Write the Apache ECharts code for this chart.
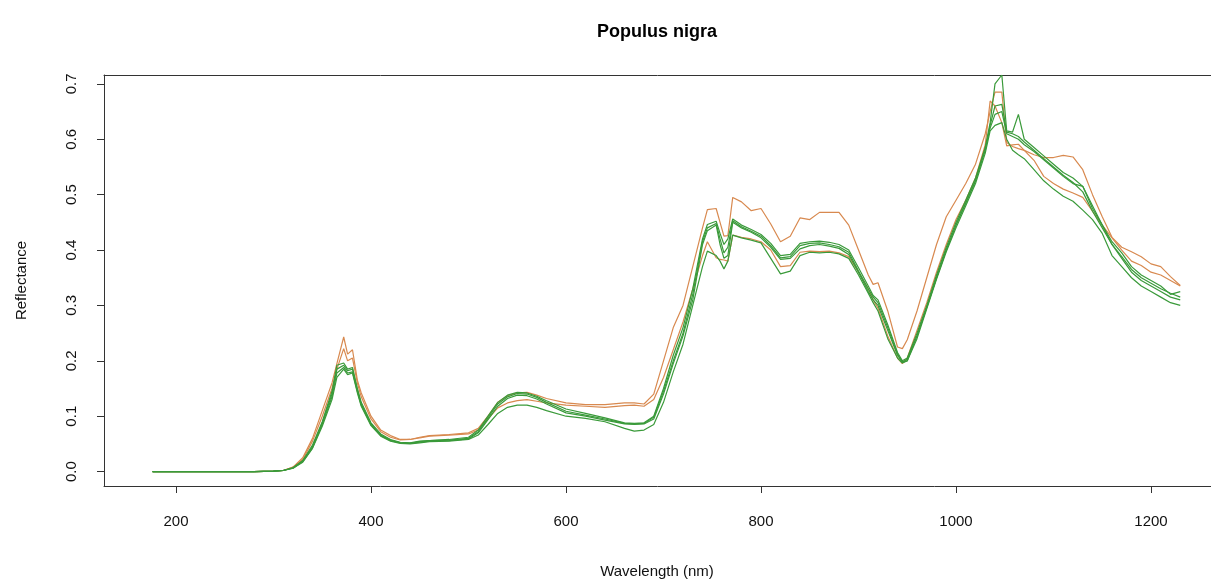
<!DOCTYPE html>
<html>
<head>
<meta charset="utf-8">
<script src="https://cdn.jsdelivr.net/npm/echarts@6/dist/echarts.min.js"></script>
<style>
  html, body { margin: 0; padding: 0; background: #fff; overflow: hidden; }
  #chart { width: 1211px; height: 583px; }
</style>
</head>
<body>
<div id="chart"></div>
<script>
const wavelength = [176, 200, 220, 240, 260, 280, 300,
    310, 320, 330, 340, 350, 360,
    365, 372, 376, 381, 386, 390,
    400, 410, 420, 430, 440, 450, 460,
    480, 500, 510, 520, 530, 540, 550,
    560, 570, 580, 600, 620, 640, 660,
    670, 680, 690, 700, 710, 720, 730,
    740, 745, 754, 758, 762, 766, 771,
    780, 790, 800, 810, 820, 830, 840,
    850, 860, 870, 880, 890, 900, 910,
    915, 920, 930, 940, 945, 950, 960,
    970, 980, 990, 1000, 1010, 1020, 1030,
    1035, 1040, 1047, 1052, 1058, 1064, 1070,
    1080, 1090, 1100, 1110, 1120, 1130, 1140,
    1150, 1160, 1170, 1180, 1190, 1200, 1210,
    1220, 1230];

const orange1 = [0, 0, 0, 0, 0, 0, 0.001,
    0.002, 0.008, 0.025, 0.06, 0.11, 0.16,
    0.195, 0.243, 0.212, 0.22, 0.165, 0.142,
    0.1, 0.075, 0.065, 0.058, 0.058, 0.062, 0.065,
    0.067, 0.07, 0.078, 0.1, 0.125, 0.137, 0.142,
    0.143, 0.138, 0.132, 0.124, 0.121, 0.121, 0.124,
    0.124, 0.122, 0.14, 0.2, 0.26, 0.3, 0.37,
    0.44, 0.473, 0.475, 0.45, 0.425, 0.426, 0.495,
    0.487, 0.471, 0.475, 0.447, 0.415, 0.425, 0.458,
    0.455, 0.468, 0.468, 0.468, 0.445, 0.4, 0.355,
    0.338, 0.341, 0.29, 0.225, 0.222, 0.238, 0.29,
    0.35, 0.41, 0.46, 0.49, 0.52, 0.555, 0.61,
    0.65, 0.685, 0.685, 0.594, 0.587, 0.583, 0.58,
    0.572, 0.567, 0.567, 0.571, 0.568, 0.545, 0.5,
    0.46, 0.423, 0.405, 0.397, 0.388, 0.375, 0.37,
    0.352, 0.336];

const orange2 = [0, 0, 0, 0, 0, 0, 0.001,
    0.002, 0.008, 0.022, 0.055, 0.1, 0.15,
    0.185, 0.222, 0.2, 0.205, 0.16, 0.135,
    0.095, 0.072, 0.062, 0.057, 0.058, 0.061, 0.064,
    0.066, 0.068, 0.075, 0.095, 0.115, 0.124, 0.128,
    0.13, 0.127, 0.124, 0.12, 0.118, 0.116, 0.119,
    0.12, 0.118, 0.13, 0.17, 0.22, 0.27, 0.33,
    0.39, 0.415, 0.386, 0.383, 0.382, 0.38, 0.427,
    0.423, 0.42, 0.415, 0.4, 0.37, 0.372, 0.396,
    0.398, 0.397, 0.398, 0.395, 0.388, 0.36, 0.33,
    0.31, 0.295, 0.245, 0.205, 0.195, 0.205, 0.255,
    0.305, 0.36, 0.41, 0.455, 0.49, 0.53, 0.59,
    0.669, 0.66, 0.63, 0.588, 0.59, 0.591, 0.58,
    0.562, 0.533, 0.52, 0.51, 0.503, 0.495, 0.47,
    0.445, 0.422, 0.4, 0.38, 0.372, 0.36, 0.355,
    0.345, 0.335];

const green1 = [0, 0, 0, 0, 0, 0, 0.001,
    0.002, 0.007, 0.02, 0.048, 0.09, 0.145,
    0.192, 0.196, 0.185, 0.188, 0.15, 0.125,
    0.088, 0.068, 0.058, 0.053, 0.052, 0.055, 0.056,
    0.058, 0.062, 0.075, 0.1, 0.125, 0.138, 0.143,
    0.142, 0.136, 0.128, 0.113, 0.105, 0.097, 0.088,
    0.087, 0.088, 0.1, 0.15, 0.21, 0.26, 0.33,
    0.42, 0.446, 0.452, 0.43, 0.41, 0.42, 0.456,
    0.445, 0.437, 0.428, 0.412, 0.39, 0.392, 0.412,
    0.415, 0.416, 0.414, 0.41, 0.4, 0.368, 0.335,
    0.318, 0.31, 0.265, 0.215, 0.2, 0.205, 0.25,
    0.3, 0.355, 0.405, 0.45, 0.49, 0.53, 0.585,
    0.63, 0.7, 0.716, 0.615, 0.613, 0.645, 0.6,
    0.585, 0.57, 0.555, 0.54, 0.53, 0.515, 0.48,
    0.445, 0.415, 0.395, 0.37, 0.355, 0.345, 0.335,
    0.32, 0.325];

const green2 = [0, 0, 0, 0, 0, 0, 0.001,
    0.002, 0.007, 0.019, 0.045, 0.088, 0.14,
    0.185, 0.192, 0.182, 0.185, 0.148, 0.122,
    0.086, 0.066, 0.057, 0.052, 0.051, 0.054, 0.056,
    0.057, 0.06, 0.072, 0.097, 0.122, 0.135, 0.141,
    0.14, 0.134, 0.125, 0.109, 0.102, 0.095, 0.087,
    0.086, 0.087, 0.098, 0.145, 0.2, 0.25, 0.32,
    0.415, 0.44, 0.448, 0.42, 0.395, 0.405, 0.453,
    0.442, 0.434, 0.425, 0.408, 0.386, 0.388, 0.408,
    0.412, 0.413, 0.41, 0.406, 0.396, 0.362, 0.33,
    0.315, 0.305, 0.26, 0.212, 0.198, 0.203, 0.245,
    0.297, 0.35, 0.4, 0.445, 0.485, 0.525, 0.58,
    0.625, 0.66, 0.663, 0.613, 0.61, 0.605, 0.595,
    0.58, 0.565, 0.55, 0.535, 0.522, 0.505, 0.47,
    0.44, 0.41, 0.385, 0.36, 0.345, 0.335, 0.325,
    0.315, 0.31];

const green3 = [0, 0, 0, 0, 0, 0, 0.001,
    0.002, 0.006, 0.018, 0.043, 0.085, 0.135,
    0.178, 0.188, 0.178, 0.18, 0.145, 0.12,
    0.085, 0.065, 0.056, 0.052, 0.051, 0.053, 0.055,
    0.056, 0.059, 0.07, 0.094, 0.118, 0.132, 0.138,
    0.137, 0.131, 0.122, 0.106, 0.1, 0.093, 0.086,
    0.085, 0.086, 0.095, 0.14, 0.195, 0.245, 0.31,
    0.41, 0.435, 0.445, 0.41, 0.385, 0.39, 0.45,
    0.44, 0.432, 0.422, 0.405, 0.383, 0.385, 0.402,
    0.408, 0.41, 0.407, 0.403, 0.392, 0.36, 0.325,
    0.31, 0.3, 0.255, 0.21, 0.197, 0.2, 0.24,
    0.294, 0.347, 0.397, 0.44, 0.48, 0.52, 0.575,
    0.615, 0.625, 0.63, 0.6, 0.58, 0.572, 0.565,
    0.545, 0.525, 0.51, 0.497, 0.488, 0.472, 0.455,
    0.43, 0.39, 0.37, 0.35, 0.335, 0.325, 0.315,
    0.305, 0.3];

const green4 = [0, 0, 0, 0, 0, 0, 0.001,
    0.002, 0.006, 0.017, 0.042, 0.082, 0.13,
    0.17, 0.185, 0.175, 0.178, 0.142, 0.118,
    0.083, 0.064, 0.055, 0.051, 0.05, 0.052, 0.054,
    0.055, 0.058, 0.066, 0.085, 0.105, 0.116, 0.12,
    0.12, 0.116, 0.11, 0.1, 0.096, 0.09, 0.078,
    0.073, 0.075, 0.085, 0.125, 0.18, 0.23, 0.3,
    0.37, 0.398, 0.39, 0.38, 0.366, 0.38, 0.427,
    0.422, 0.418, 0.413, 0.385, 0.357, 0.362, 0.39,
    0.396, 0.395, 0.396, 0.393, 0.385, 0.355, 0.322,
    0.305, 0.29, 0.24, 0.205, 0.196, 0.2, 0.245,
    0.296, 0.35, 0.4, 0.445, 0.485, 0.525, 0.585,
    0.62, 0.645, 0.65, 0.61, 0.605, 0.6, 0.59,
    0.578, 0.563, 0.548, 0.533, 0.52, 0.515, 0.475,
    0.445, 0.41, 0.388, 0.365, 0.35, 0.34, 0.33,
    0.322, 0.315];

const xTicks = [200, 400, 600, 800, 1000, 1200];
const yTicks = [0.0, 0.1, 0.2, 0.3, 0.4, 0.5, 0.6, 0.7];

const ORANGE = '#d8894f';
const GREEN = '#3a9a3a';
const FONT = '"Liberation Sans", Arial, sans-serif';

function pairs(values) {
    return wavelength.map((w, i) => [w, values[i]]);
}

const spectra = [
    { name: 'orange1', color: ORANGE, values: orange1 },
    { name: 'orange2', color: ORANGE, values: orange2 },
    { name: 'green1', color: GREEN, values: green1 },
    { name: 'green2', color: GREEN, values: green2 },
    { name: 'green3', color: GREEN, values: green3 },
    { name: 'green4', color: GREEN, values: green4 }
];

const chart = echarts.init(document.getElementById('chart'), null, { renderer: 'canvas' });

// the plot box of the original is cut off on the right, so no right border
const gridLeft = 104;
const gridWidth = 1211 - gridLeft;
const xMin = 126.15;
const xMax = xMin + gridWidth / 0.975;

const option = {
    animation: false,
    backgroundColor: '#ffffff',
    grid: {
        left: gridLeft,
        top: 75,
        bottom: 97,
        right: 0,
        show: false
    },
    xAxis: [{
        type: 'value',
        position: 'bottom',
        min: xMin,
        max: xMax,
        axisLine: { show: true, onZero: false, lineStyle: { color: '#333', width: 1 } },
        splitLine: { show: false },
        axisTick: {
            show: true,
            length: 7,
            customValues: xTicks,
            lineStyle: { color: '#333' }
        },
        axisLabel: {
            customValues: xTicks,
            margin: 28,
            fontSize: 15,
            color: '#111',
            fontFamily: FONT,
            formatter: v => String(v)
        }
    }, {
        type: 'value',
        position: 'top',
        min: xMin,
        max: xMax,
        axisLine: { show: true, onZero: false, lineStyle: { color: '#333', width: 1 } },
        splitLine: { show: false },
        axisTick: { show: false },
        axisLabel: { show: false }
    }],
    yAxis: {
        type: 'value',
        min: -0.026,
        max: 0.716,
        name: 'Reflectance',
        nameLocation: 'middle',
        nameRotate: 90,
        nameGap: 75,
        nameTextStyle: { fontSize: 15, color: '#111', fontFamily: FONT },
        axisLine: { show: true, onZero: false, lineStyle: { color: '#333', width: 1 } },
        splitLine: { show: false },
        axisTick: {
            show: true,
            length: 7,
            customValues: yTicks,
            lineStyle: { color: '#333' }
        },
        axisLabel: {
            customValues: yTicks,
            rotate: 90,
            margin: 25,
            fontSize: 15,
            color: '#111',
            fontFamily: FONT,
            formatter: v => v.toFixed(1)
        }
    },
    graphic: [
        {
            type: 'text',
            x: 657,
            y: 32,
            style: {
                text: 'Populus nigra',
                align: 'center',
                verticalAlign: 'middle',
                fontSize: 18,
                fontWeight: 'bold',
                fontFamily: FONT,
                fill: '#000'
            }
        },
        {
            type: 'text',
            x: 657,
            y: 572,
            style: {
                text: 'Wavelength (nm)',
                align: 'center',
                verticalAlign: 'middle',
                fontSize: 15,
                fontFamily: FONT,
                fill: '#111'
            }
        }
    ],
    series: spectra.map(s => ({
        name: s.name,
        type: 'line',
        xAxisIndex: 0,
        data: pairs(s.values),
        showSymbol: false,
        symbol: 'none',
        clip: true,
        lineStyle: { color: s.color, width: 1.2 },
        itemStyle: { color: s.color }
    }))
};

chart.setOption(option);
</script>
</body>
</html>
